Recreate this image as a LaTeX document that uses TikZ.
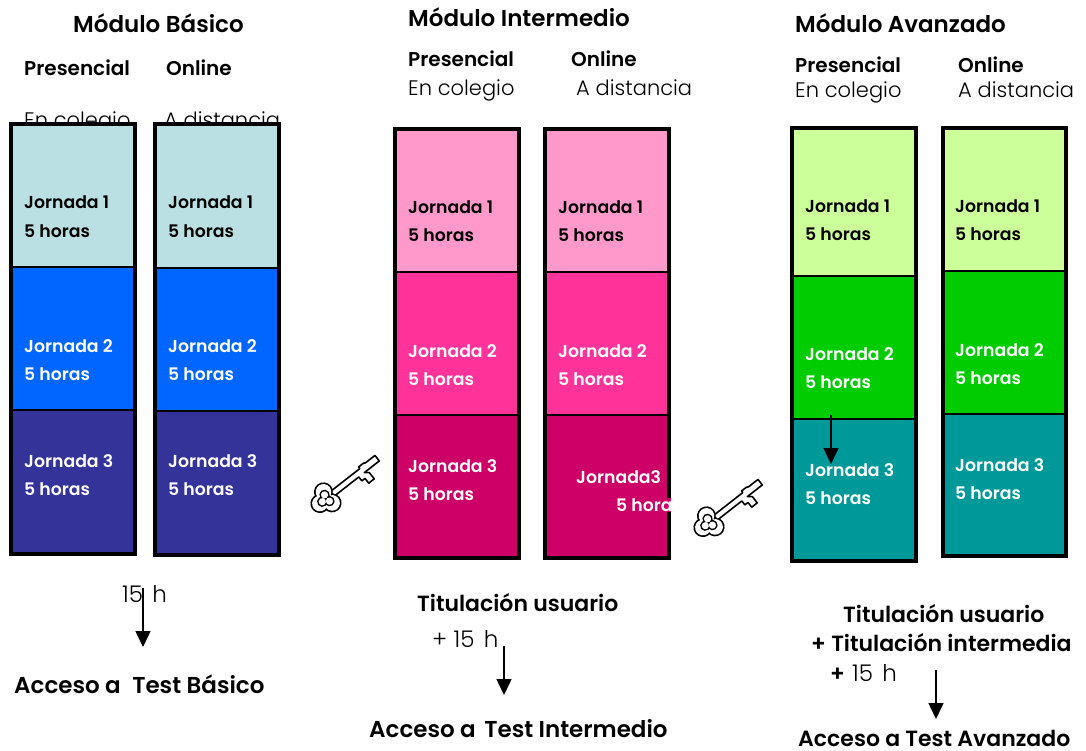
\documentclass[tikz,border=0pt]{standalone}
\usepackage{fontspec}
\setmainfont{Poppins Light}[BoldFont=Poppins SemiBold]
\usetikzlibrary{arrows.meta}
\definecolor{bA}{HTML}{BBE0E3}\definecolor{bB}{HTML}{0066FF}\definecolor{bC}{HTML}{333399}
\definecolor{pA}{HTML}{FF99CC}\definecolor{pB}{HTML}{FF3399}\definecolor{pC}{HTML}{CC0066}
\definecolor{gA}{HTML}{CCFF99}\definecolor{gB}{HTML}{00CC00}\definecolor{gC}{HTML}{009999}
\tikzset{
  x=1pt,y=-1pt,
  txt/.style={anchor=base west,inner sep=0pt,font=\fontsize{#1}{#1}\selectfont},
  txt/.default=21,
  head/.style={txt=23,font=\fontsize{23}{23}\selectfont\bfseries},
  sub/.style={txt=20,font=\fontsize{20}{20}\selectfont\bfseries},
  reg/.style={txt=21},
  hrs/.style={txt=23},
  jor/.style={txt=17,font=\fontsize{17.3}{17.3}\selectfont\bfseries},
  concl/.style={txt=22,font=\fontsize{22}{22}\selectfont\bfseries},
  accs/.style={txt=23,font=\fontsize{23}{23}\selectfont\bfseries},
  border/.style={draw=black,line width=4pt,line join=miter},
  divider/.style={draw=black,line width=1.3pt},
  flow/.style={draw=black,line width=1.5pt,-{Triangle[length=16pt,width=15pt]}},
  keyline/.style={draw=black,fill=white,line width=1.6pt,line join=round},
  keyicon/.pic={
    \fill[black] (-9,0) circle (9.5) (1,-7) circle (9.5) (1,7) circle (9.5);
    \path[keyline] (8,-3) -- (44,-3) -- (44,-5) -- (50,-5) -- (52,-4) -- (64,-4) -- (64,3) -- (45,3)
      -- (49,6) -- (49,14) -- (42,14) -- (42,8) -- (38,8) -- (38,3) -- (8,3) -- cycle;
    \fill[white] (-9,0) circle (7.8) (1,-7) circle (7.8) (1,7) circle (7.8) (8,-1.5) rectangle (14,1.5);
    \fill[black] (-6,0) circle (5.2) (0,-4) circle (5.2) (0,4) circle (5.2);
    \fill[white] (-6,0) circle (3.6) (0,-4) circle (3.6) (0,4) circle (3.6);
  }
}
\newcommand{\stack}[9]{%
  \fill[#7] (#1,#3) rectangle (#2,#4);
  \fill[#8] (#1,#4) rectangle (#2,#5);
  \fill[#9] (#1,#5) rectangle (#2,#6);
  \draw[divider] (#1,#4) -- (#2,#4);
  \draw[divider] (#1,#5) -- (#2,#5);
  \draw[border] (#1,#3) rectangle (#2,#6);
}
\begin{document}
\begin{tikzpicture}
\useasboundingbox (0,0) rectangle (1086,751);
\fill[white] (0,0) rectangle (1086,751);
% headings
\node[head] (h1) at (73,33) {Módulo Básico};
\node[sub] (p1) at (24,76) {Presencial};
\node[sub] (o1) at (166,76) {Online};
\node[reg] (e1) at (24,128) {En colegio};
\node[reg] (a1) at (164,128) {A distancia};
\node[head] (h2) at (408,27) {Módulo Intermedio};
\node[sub] (p2) at (408,67) {Presencial};
\node[sub] (o2) at (571,67) {Online};
\node[reg] (e2) at (408,96) {En colegio};
\node[reg] (a2) at (576,96) {A distancia};
\node[head] (h3) at (795,33) {Módulo Avanzado};
\node[sub] (p3) at (795,73) {Presencial};
\node[sub] (o3) at (958,73) {Online};
\node[reg] (e3) at (795,98) {En colegio};
\node[reg] (a3) at (958,98) {A distancia};
% columns
\stack{11}{135}{124}{267}{410}{554}{bA}{bB}{bC}
\stack{155}{279}{124}{268}{411}{555}{bA}{bB}{bC}
\stack{395}{519}{129}{272}{415}{558}{pA}{pB}{pC}
\stack{545}{669}{129}{272}{415}{558}{pA}{pB}{pC}
\stack{792}{916}{128}{276}{419}{561}{gA}{gB}{gC}
\stack{943}{1066}{128}{271}{414}{556}{gA}{gB}{gC}
% jornada labels
\newcommand{\jl}[5]{\node[jor,text=#5] (#1a) at (#2,#3) {#4}; \node[jor,text=#5] (#1b) at (#2,#3+28) {5 horas};}
\jl{a1}{24}{209}{Jornada 1}{black}
\jl{a2}{24}{352}{Jornada 2}{white}
\jl{a3}{24}{467}{Jornada 3}{white}
\jl{b1}{168}{209}{Jornada 1}{black}
\jl{b2}{168}{352}{Jornada 2}{white}
\jl{b3}{168}{467}{Jornada 3}{white}
\jl{c1}{408}{214}{Jornada 1}{black}
\jl{c2}{408}{357}{Jornada 2}{white}
\jl{c3}{408}{472}{Jornada 3}{white}
\jl{d1}{558}{214}{Jornada 1}{black}
\jl{d2}{558}{357}{Jornada 2}{white}
\node[jor,text=white] (d3a) at (576,483) {Jornada3};
\fill[pC] (640,498) rectangle (671,512);
\begin{scope}
\clip (600,490) rectangle (671,520);
\node[jor,text=white] (d3b) at (616,511) {5 horas};
\end{scope}
\jl{e1}{805}{213}{Jornada 1}{black}
\jl{e2}{805}{360}{Jornada 2}{white}
\jl{e3}{805}{476}{Jornada 3}{white}
\jl{f1}{955}{213}{Jornada 1}{black}
\jl{f2}{955}{356}{Jornada 2}{white}
\jl{f3}{955}{471}{Jornada 3}{white}
% keys
\pic[rotate=38] at (327,498) {keyicon};
\pic[rotate=38] at (710,522) {keyicon};
% bottom texts
\node[hrs] (t1) at (122,602) {15\hspace{3pt} h};
\node[accs] (z1) at (14,693) {Acceso a\hspace{6pt} Test Básico};
\node[concl] (u2) at (417,611) {Titulación usuario};
\node[hrs] (t2) at (432,647) {+ 15\hspace{3pt} h};
\node[accs] (z2) at (369,737) {Acceso a\hspace{3pt} Test Intermedio};
\node[concl] (u3) at (843,622) {Titulación usuario};
\node[concl] (v3) at (811,651) {+ Titulación intermedia};
\node[concl] (pl) at (830,681) {+};
\node[hrs] (t3) at (852,681) {15\hspace{3pt} h};
\node[concl] (z3) at (798,746) {Acceso a Test Avanzado};
% arrows
\coordinate (s1) at (143,588); \coordinate (d1) at (143,647);
\coordinate (s2) at (504,646); \coordinate (d2) at (504,695);
\coordinate (s3) at (936,670); \coordinate (d3) at (936,719);
\coordinate (s4) at (831,415); \coordinate (d4) at (831,464);
\draw[flow] (s1) -- (d1);
\draw[flow] (s2) -- (d2);
\draw[flow] (s3) -- (d3);
\draw[flow] (s4) -- (d4);
\end{tikzpicture}
\end{document}
